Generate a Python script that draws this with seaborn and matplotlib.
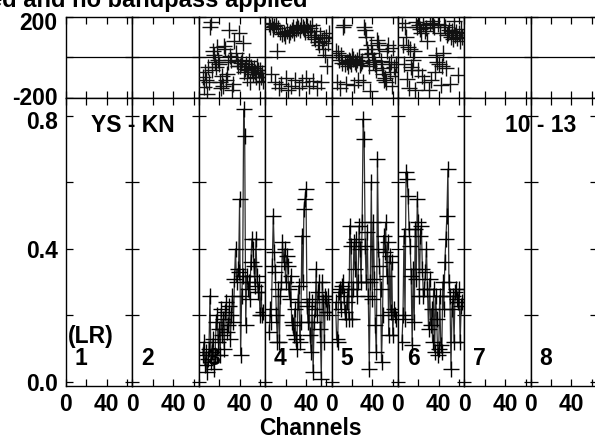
import numpy as np
import matplotlib
matplotlib.use('Agg')
import matplotlib.pyplot as plt
import matplotlib.transforms as mtransforms
import seaborn as sns

# Channel numbers with data, and the 8 IF panels
channels = np.arange(4, 64)
panel_names = ['1', '2', '3', '4', '5', '6', '7', '8']

# Amplitude per IF (only IFs 3-6 carry data)
amp_3 = [0.08, 0.12, 0.05, 0.09, 0.03, 0.07, 0.10,
         0.26, 0.06, 0.09, 0.13, 0.04, 0.08, 0.18,
         0.20, 0.12, 0.16, 0.08, 0.22, 0.14, 0.19,
         0.10, 0.21, 0.24, 0.15, 0.17, 0.23, 0.13,
         0.20, 0.26, 0.18, 0.31, 0.40, 0.30, 0.34,
         0.33, 0.55, 0.08, 0.26, 0.32, 0.82, 0.74,
         0.17, 0.32, 0.28, 0.30, 0.25, 0.36, 0.43,
         0.40, 0.35, 0.29, 0.43, 0.32, 0.27, 0.30,
         0.20, 0.27, 0.20, 0.21]
amp_4 = [0.15, 0.22, 0.18, 0.35, 0.50, 0.39, 0.33,
         0.20, 0.12, 0.28, 0.12, 0.26, 0.30, 0.42,
         0.36, 0.40, 0.30, 0.38, 0.35, 0.28, 0.25,
         0.32, 0.18, 0.17, 0.14, 0.22, 0.13, 0.10,
         0.24, 0.29, 0.12, 0.18, 0.44, 0.30, 0.52,
         0.55, 0.58, 0.23, 0.18, 0.25, 0.14, 0.09,
         0.24, 0.03, 0.18, 0.22, 0.34, 0.20, 0.27,
         0.30, 0.16, 0.01, 0.30, 0.24, 0.12, 0.26,
         0.25, 0.21, 0.26, 0.21]
amp_5 = [0.24, 0.13, 0.12, 0.27, 0.28, 0.22, 0.29,
         0.30, 0.26, 0.21, 0.19, 0.24, 0.28, 0.19,
         0.47, 0.41, 0.19, 0.28, 0.42, 0.34, 0.43,
         0.26, 0.30, 0.47, 0.40, 0.30, 0.48, 0.79,
         0.73, 0.41, 0.30, 0.45, 0.26, 0.04, 0.30,
         0.60, 0.25, 0.48, 0.31, 0.17, 0.09, 0.67,
         0.40, 0.35, 0.28, 0.06, 0.20, 0.44, 0.39,
         0.48, 0.32, 0.42, 0.14, 0.38, 0.21, 0.36,
         0.14, 0.22, 0.20, 0.19]
amp_6 = [0.12, 0.20, 0.44, 0.19, 0.63, 0.61, 0.56,
         0.46, 0.41, 0.32, 0.11, 0.34, 0.18, 0.46,
         0.31, 0.55, 0.48, 0.26, 0.44, 0.47, 0.34,
         0.26, 0.28, 0.33, 0.40, 0.28, 0.16, 0.31,
         0.17, 0.22, 0.12, 0.28, 0.09, 0.26, 0.19,
         0.08, 0.10, 0.26, 0.11, 0.09, 0.30, 0.22,
         0.36, 0.43, 0.50, 0.64, 0.30, 0.26, 0.04,
         0.22, 0.26, 0.12, 0.27, 0.28, 0.25, 0.24,
         0.28, 0.12, 0.23, 0.24]

# Phase (degrees) per IF
phase_3 = [-95, -145, -70, -110, -178, -45, -120,
           150, 175, -60, 30, 10, -20, -45,
           50, -10, -30, -120, -150, -90, -140,
           55, 40, -110, -80, -20, 135, 5,
           -10, -160, -130, 80, 20, -15, -40,
           120, -40, -25, -10, 70, -70, -55,
           -30, -100, -60, -15, -120, -45, -60,
           -80, -50, -70, -95, -40, -60, -120,
           -60, -95, -75, -115]
phase_4 = [165, 150, -80, 170, 140, 155, -120,
           160, 30, 145, -150, 125, -130, 115,
           120, 105, -100, 130, -160, 110, 125,
           -140, 135, 150, 120, -110, 140, 155,
           145, -150, 135, 160, -120, 150, 140,
           125, -100, 155, 130, -140, 145, 110,
           160, -115, 100, 90, 130, -150, 75,
           60, 110, -120, 80, 40, 95, 10,
           100, -40, 70, 120]
phase_5 = [30, -120, 20, -10, -150, 10, -25,
           150, 160, -30, -130, -20, -40, -10,
           -15, -30, 5, -5, -135, -20, -30,
           -10, -110, 0, -35, -25, -15, -120,
           150, 135, 100, 40, 15, -40, -165,
           60, 20, -20, -10, -30, -60, 85,
           70, 40, -15, -50, -80, -110, -100,
           -120, 30, 60, -30, -70, -20, -140,
           45, -45, -90, -30]
phase_6 = [168, 60, -30, 150, 100, -105, 50,
           -150, 40, -45, -60, -10, 30, -160,
           175, 150, -60, 160, 140, 120, -90,
           165, -120, 130, 145, 80, -160, 170,
           -110, 178, 160, 150, -70, 10, -20,
           165, -30, 120, -135, -40, 20, 160,
           150, -50, 110, 120, 135, -130, 100,
           130, 90, 180, 110, 125, 95, -87,
           120, 80, 140, 100]

amp_data = {'3': amp_3, '4': amp_4, '5': amp_5, '6': amp_6}
phase_data = {'3': phase_3, '4': phase_4, '5': phase_5, '6': phase_6}

sns.set_theme(style='white')
plt.rcParams['font.family'] = ['Liberation Sans', 'DejaVu Sans']
plt.rcParams['font.weight'] = 'bold'
plt.rcParams['text.color'] = 'black'
plt.rcParams['xtick.color'] = 'black'
plt.rcParams['ytick.color'] = 'black'

FS = 16.5
W, H = 595, 440
fig, axes = plt.subplots(2, 8, figsize=(W / 100, H / 100), dpi=100,
                         sharex=True, sharey='row',
                         gridspec_kw={'height_ratios': [81, 288],
                                      'hspace': 0, 'wspace': 0})
fig.subplots_adjust(left=66 / W, right=597 / W, top=1 - 17 / H, bottom=1 - 386 / H)

for i, name in enumerate(panel_names):
    ph_ax = axes[0, i]
    amp_ax = axes[1, i]
    ph_ax.axhline(0, color='black', lw=0.9, zorder=1)
    if name in amp_data:
        sns.scatterplot(x=channels, y=phase_data[name], ax=ph_ax, marker='+',
                        s=120, color='#111111', linewidth=1.0, legend=False, zorder=3)
        sns.lineplot(x=channels, y=amp_data[name], ax=amp_ax, sort=False,
                     color='#2e2e2e', lw=0.9, marker='+', markersize=11,
                     markeredgecolor='black', markeredgewidth=1.0, zorder=3)
    amp_ax.text(0.135, 0.073, name, transform=amp_ax.transAxes,
                ha='left', va='baseline', fontsize=FS, fontweight='bold', color='black')
    for ax in (ph_ax, amp_ax):
        for sp in ax.spines.values():
            sp.set_color('black')
            sp.set_linewidth(1.0)
        ax.tick_params(direction='in', top=True, bottom=True, left=True, right=True,
                       length=5, width=0.9, color='black')
        ax.set_xlabel('')
        ax.set_ylabel('')

axes[1, 0].set_xlim(0, 65)
axes[1, 0].set_xticks([0, 20, 40, 60], labels=['0', '', '40', ''])
axes[1, 0].set_ylim(-0.012, 0.854)
axes[1, 0].set_yticks([0.0, 0.2, 0.4, 0.6, 0.8], labels=['0.0', '', '0.4', '', '0.8'])
axes[0, 0].set_ylim(-200, 200)
axes[0, 0].set_yticks([-200, 0, 200], labels=['-200', '', '200'])
for ax in axes.flat:
    ax.tick_params(axis='x', pad=5, labelsize=FS, labelcolor='black')
    ax.tick_params(axis='y', pad=6, labelsize=FS, labelcolor='black')

# nudge the crowded labels at the panel edges, as in the original
def shift(tick, dy):
    off = mtransforms.ScaledTranslation(0, dy / 72, fig.dpi_scale_trans)
    tick.label1.set_transform(tick.label1.get_transform() + off)

shift(axes[1, 0].yaxis.get_major_ticks()[-1], -3)
shift(axes[0, 0].yaxis.get_major_ticks()[0], 1.5)
shift(axes[0, 0].yaxis.get_major_ticks()[-1], -3)

fig.text(307 / W, 1 - 7 / H, 'Vector averaged and no bandpass applied',
         ha='right', va='baseline', fontsize=17, fontweight='bold')
fig.text(133 / W, 1 - 132 / H, 'YS - KN', ha='center', va='baseline',
         fontsize=FS, fontweight='bold')
fig.text(541 / W, 1 - 132 / H, '10 - 13', ha='center', va='baseline',
         fontsize=FS, fontweight='bold')
fig.text(68 / W, 1 - 343 / H, '(LR)', ha='left', va='baseline',
         fontsize=FS, fontweight='bold')
fig.text(310 / W, 1 - 435 / H, 'Channels', ha='center', va='baseline',
         fontsize=FS, fontweight='bold')

fig.savefig('out.png', dpi=100)
